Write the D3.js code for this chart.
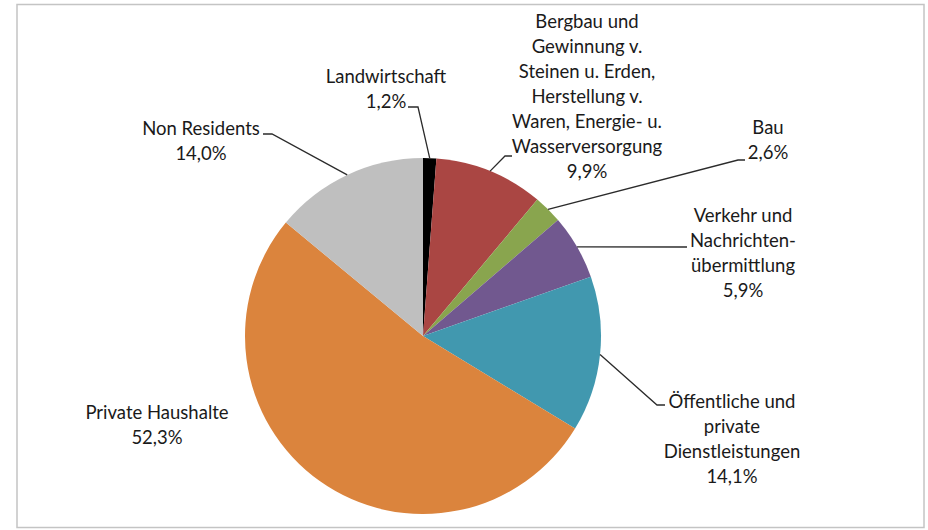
<!DOCTYPE html>
<html>
<head>
<meta charset="utf-8">
<script src="https://cdn.jsdelivr.net/npm/d3@7"></script>
<style>
  body { margin: 0; background: #fff; }
  text { font-family: Lato, "Open Sans", sans-serif; fill: #1a1a1a; }
</style>
</head>
<body>
<div id="chart"></div>
<script>
//Datos
const categorias = [
    ['Landwirtschaft'],
    ['Bergbau und', 'Gewinnung v.', 'Steinen u. Erden,', 'Herstellung v.', 'Waren, Energie- u.', 'Wasserversorgung'],
    ['Bau'],
    ['Verkehr und', 'Nachrichten-', 'übermittlung'],
    ['Öffentliche und', 'private', 'Dienstleistungen'],
    ['Private Haushalte'],
    ['Non Residents']
];
const valores = [1.2, 9.9, 2.6, 5.9, 14.1, 52.3, 14.0];
const colores = ['#000000', '#AA4643', '#89A54E', '#71588F', '#4198AF', '#DB843D', '#BFBFBF'];

//Colocación de etiquetas (centro del texto, primera línea) y codo de la línea guía
const etiquetas = [
    { x: 386, y: 77, codo: [418, 107], fin: [408, 107] },
    { x: 587, y: 22, codo: [505, 156], fin: [512, 156] },
    { x: 768, y: 128, codo: [738, 160], fin: [745, 160] },
    { x: 743, y: 216, codo: [687, 247], fin: [687, 247] },
    { x: 732, y: 402, codo: [657, 405], fin: [665, 405] },
    { x: 157, y: 413, codo: null, fin: null },
    { x: 201, y: 129, codo: [272, 134], fin: [263, 134] }
];

const width = 928, height = 530;
const cx = 423, cy = 336, radius = 178;
const lineH = 25;

let svg = d3.select('#chart')
    .append('svg')
    .attr('width', width)
    .attr('height', height);

//Marco
svg.append('rect')
    .attr('x', 17).attr('y', 4.5)
    .attr('width', 907).attr('height', 523)
    .attr('fill', 'none')
    .attr('stroke', '#c4c4c4')
    .attr('stroke-width', 1.5);

let g = svg.append('g').attr('transform', 'translate(' + cx + ',' + cy + ')');

let pie = d3.pie().sort(null).value(function(d) { return d; });
let arcs = pie(valores);

let arc = d3.arc().innerRadius(0).outerRadius(radius);

g.selectAll('path')
    .data(arcs)
    .enter()
    .append('path')
    .attr('d', arc)
    .attr('fill', function(d, i) { return colores[i]; });

//Líneas guía
arcs.forEach(function(d, i) {
    let e = etiquetas[i];
    if (!e.codo) return;
    let a = (d.startAngle + d.endAngle) / 2;
    let p0 = [cx + radius * Math.sin(a), cy - radius * Math.cos(a)];
    svg.append('polyline')
        .attr('points', [p0, e.codo, e.fin].map(function(p) { return p.join(','); }).join(' '))
        .attr('fill', 'none')
        .attr('stroke', '#2b2b2b')
        .attr('stroke-width', 1.3);
});

//Textos
categorias.forEach(function(lineas, i) {
    let e = etiquetas[i];
    let t = svg.append('text')
        .attr('text-anchor', 'middle')
        .attr('font-size', 18.5);
    let todas = lineas.concat([valores[i].toFixed(1).replace('.', ',') + '%']);
    todas.forEach(function(l, j) {
        t.append('tspan')
            .attr('x', e.x)
            .attr('y', e.y + j * lineH)
            .attr('dy', '0.35em')
            .text(l);
    });
});
</script>
</body>
</html>
